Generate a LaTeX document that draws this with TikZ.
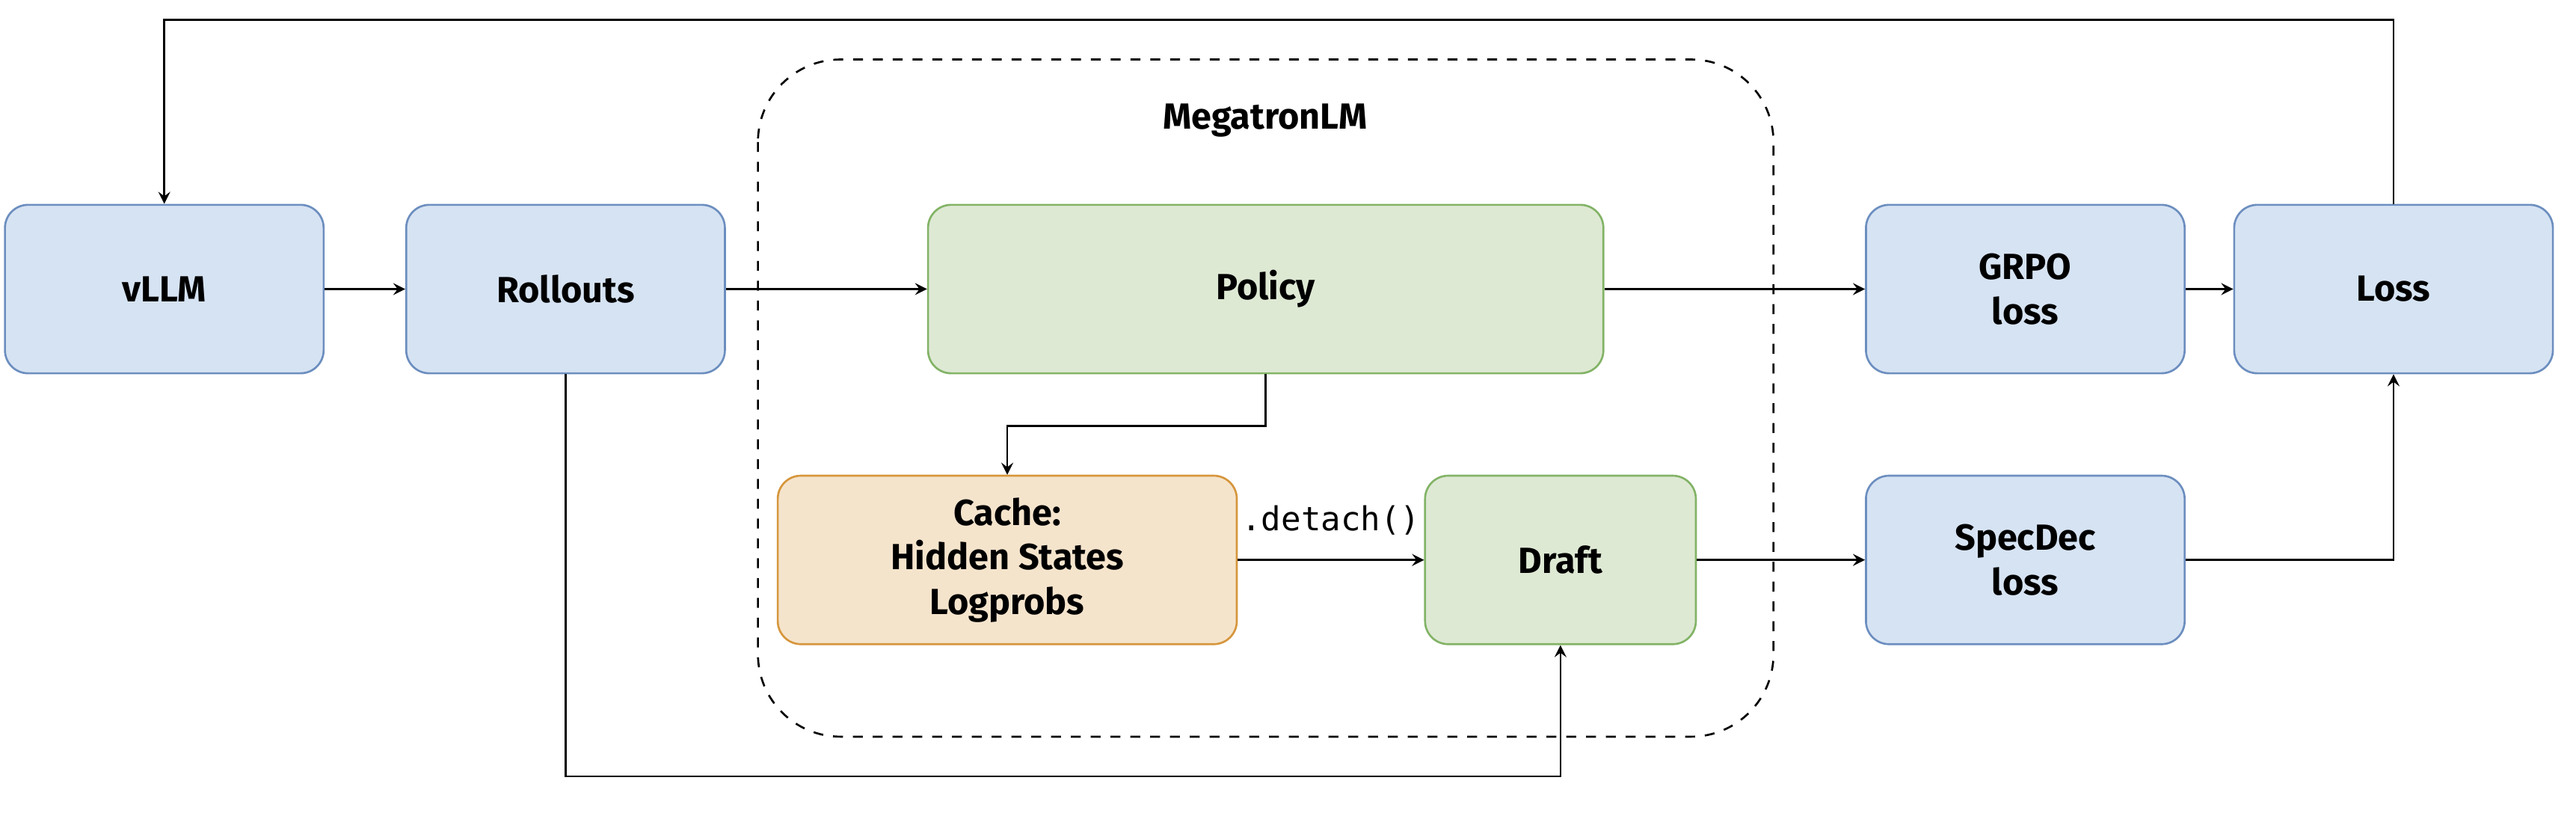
\documentclass[tikz,border=0pt]{standalone}
\usepackage{fontspec}
\setmainfont{Fira Sans}
\setmonofont{DejaVu Sans Mono}
\usetikzlibrary{positioning}
\definecolor{blueF}{HTML}{D6E3F3}
\definecolor{blueD}{HTML}{6C8EBF}
\definecolor{greenF}{HTML}{DEE9D4}
\definecolor{greenD}{HTML}{82B366}
\definecolor{orangeF}{HTML}{F5E4CC}
\definecolor{orangeD}{HTML}{D6963C}
\tikzset{
  box/.style={draw, line width=0.6pt, rounded corners=7pt, align=center,
    font=\fontsize{11}{13.5}\selectfont\bfseries, inner sep=0pt},
  bluebox/.style={box, fill=blueF, draw=blueD, minimum width=96.5pt, minimum height=51pt},
  greenbox/.style={box, fill=greenF, draw=greenD, minimum height=51pt},
  orangebox/.style={box, fill=orangeF, draw=orangeD, minimum height=51pt},
  flow/.style={->, >=stealth, line width=0.6pt}
}
\begin{document}
\begin{tikzpicture}[x=0.5pt,y=-0.5pt]
\useasboundingbox (0,0) rectangle (1560,494);
% container
\draw[dashed, line width=0.6pt, rounded corners=25pt] (459,36) rectangle (1074,446);
\node[font=\fontsize{11}{13}\selectfont\bfseries] (mlm) at (766,73) {MegatronLM};
% boxes
\node[bluebox] (vllm) at (99.5,175) {vLLM};
\node[bluebox] (roll) at (342.5,175) {Rollouts};
\node[greenbox, minimum width=204.5pt] (policy) at (766.5,175) {Policy};
\node[bluebox] (grpo) at (1226.5,175) {GRPO\\loss};
\node[bluebox] (loss) at (1449.5,175) {Loss};
\node[orangebox, minimum width=139pt] (cache) at (610,339) {Cache:\\Hidden States\\Logprobs};
\node[greenbox, minimum width=82pt] (draft) at (945,339) {Draft};
\node[bluebox] (spec) at (1226.5,339) {SpecDec\\loss};
% connectors
\draw[flow] (vllm) -- (roll);
\draw[flow] (roll) -- (policy);
\draw[flow] (policy) -- (grpo);
\draw[flow] (grpo) -- (loss);
\draw[flow] (loss.north) |- (99.5,12) -- (vllm.north);
\draw[flow] (policy.south) |- (610,258) -- (cache.north);
\draw[flow] (cache) -- node[above=4pt, font=\ttfamily\fontsize{10}{12}\selectfont] {.detach()} (draft);
\draw[flow] (draft) -- (spec);
\draw[flow] (spec.east) -| (loss.south);
\draw[flow] (roll.south) |- (945,470) -- (draft.south);
\end{tikzpicture}
\end{document}
